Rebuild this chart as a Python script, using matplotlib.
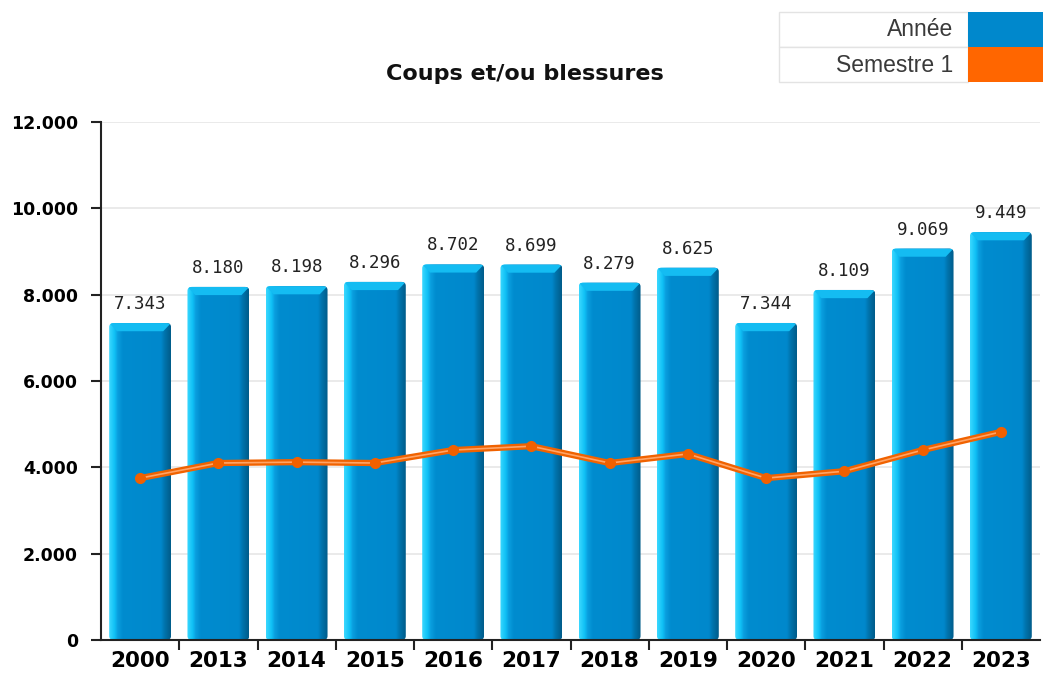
import numpy as np
import matplotlib
matplotlib.use("Agg")
import matplotlib.pyplot as plt
from matplotlib.patches import Rectangle, FancyBboxPatch, Polygon
from matplotlib.colors import LinearSegmentedColormap
from matplotlib.ticker import FuncFormatter, FixedLocator

years = ["2000", "2013", "2014", "2015", "2016", "2017", "2018", "2019", "2020", "2021", "2022", "2023"]
annee = [7343, 8180, 8198, 8296, 8702, 8699, 8279, 8625, 7344, 8109, 9069, 9449]
semestre1 = [3750, 4100, 4120, 4100, 4400, 4490, 4100, 4310, 3750, 3910, 4400, 4820]

W, H = 1043, 676
fig = plt.figure(figsize=(W / 100, H / 100), dpi=100)
ax = fig.add_axes([101 / W, (H - 640) / H, (1040 - 101) / W, (640 - 122) / H])

def fmt(v):
    return "{:,}".format(int(v)).replace(",", ".")

x = np.arange(len(years))
bw = 0.79
grad = LinearSegmentedColormap.from_list("bar", [
    (0.0, "#3ad8ff"), (0.09, "#0fc0f5"), (0.14, "#0a9ede"), (0.22, "#008ccf"),
    (0.84, "#0088cc"), (0.9, "#0074ad"), (1.0, "#005c8a")])
gimg = np.linspace(0, 1, 300).reshape(1, -1)

ax.set_xlim(-0.5, len(years) - 0.5)
ax.set_ylim(0, 12000)

for xi, v in zip(x, annee):
    x0 = xi - bw / 2
    clip = FancyBboxPatch((x0, 0), bw, v, boxstyle="round,pad=0,rounding_size=0.06",
                          mutation_aspect=1500, transform=ax.transData,
                          facecolor="none", edgecolor="none")
    ax.add_patch(clip)
    im = ax.imshow(gimg, cmap=grad, extent=(x0, x0 + bw, 0, v), aspect="auto",
                   interpolation="bilinear", zorder=2)
    im.set_clip_path(clip)
    d, h = 0.1, 190
    bevel = Polygon([(x0, v), (x0 + bw, v), (x0 + bw - d, v - h), (x0 + d, v - h)],
                    closed=True, facecolor="#14bcf2", edgecolor="none", zorder=2.1)
    ax.add_patch(bevel)
    bevel.set_clip_path(clip)
    ax.text(xi, v + 230, fmt(v), ha="center", va="bottom", fontsize=12.5,
            family="DejaVu Sans Mono", color="#222222", zorder=4)

ax.plot(x, semestre1, color="#f06200", lw=4.5, zorder=3, solid_capstyle="round")
ax.plot(x, semestre1, color="#ffa466", lw=1.2, zorder=3.2)
ax.plot(x, semestre1, ls="none", marker="o", ms=7, color="#f06000", zorder=3.5)

ax.set_xlim(-0.5, len(years) - 0.5)
ax.set_ylim(0, 12000)
ax.set_yticks(range(0, 12001, 2000))
ax.yaxis.set_major_formatter(FuncFormatter(lambda v, p: fmt(v)))
ax.grid(axis="y", color="#e6e6e6", lw=1.2, zorder=0)
ax.set_axisbelow(True)

ax.xaxis.set_major_locator(FixedLocator(np.arange(0.5, len(years) - 0.5, 1)))
ax.xaxis.set_minor_locator(FixedLocator(x))
ax.set_xticklabels([])
ax.set_xticklabels(years, minor=True)
ax.tick_params(axis="x", which="major", length=7, width=1.5, color="#222222")
ax.tick_params(axis="x", which="minor", length=0, pad=8)
ax.tick_params(axis="y", length=7.5, width=1.5, color="#222222", pad=9)
for lab in ax.get_xticklabels(minor=True):
    lab.set_fontsize(15.5)
    lab.set_fontweight("bold")
for lab in ax.get_yticklabels():
    lab.set_fontsize(12.5)
    lab.set_fontweight("bold")

for s in ["top", "right"]:
    ax.spines[s].set_visible(False)
for s in ["left", "bottom"]:
    ax.spines[s].set_linewidth(1.5)
    ax.spines[s].set_color("#222222")

fig.text(525 / W, 1 - 74 / H, "Coups et/ou blessures", ha="center", va="center",
         fontsize=16, fontweight="bold", color="#111111")

# legend table
rows = [("Année", "#0088cc"), ("Semestre 1", "#ff6600")]
for i, (name, col) in enumerate(rows):
    y0 = 12 + i * 35
    fig.patches.append(Rectangle((779 / W, 1 - (y0 + 35) / H), (968 - 779) / W, 35 / H,
                                 transform=fig.transFigure, facecolor="white",
                                 edgecolor="#e3e3e3", lw=1))
    fig.patches.append(Rectangle((968 / W, 1 - (y0 + 35) / H), 75 / W, 35 / H,
                                 transform=fig.transFigure, facecolor=col, edgecolor="none"))
    fig.text(953 / W, 1 - (y0 + 18) / H, name, ha="right", va="center",
             fontsize=16.5, family="Liberation Sans", color="#3a3a3a")

fig.savefig("out.png", dpi=100)
